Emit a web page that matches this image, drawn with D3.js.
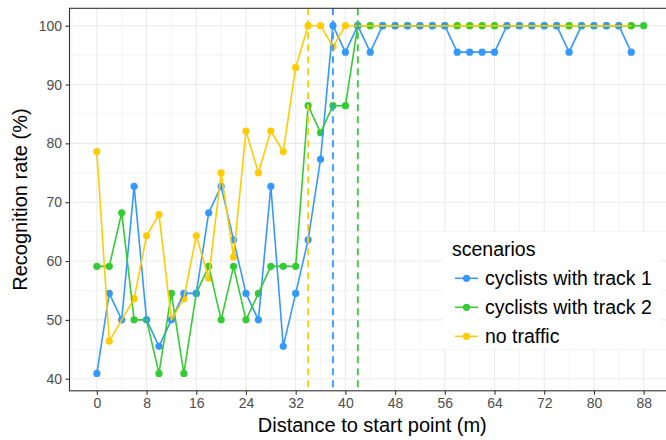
<!DOCTYPE html>
<html>
<head>
<meta charset="utf-8">
<script src="https://cdn.jsdelivr.net/npm/d3@7"></script>
<style>
  html, body { margin: 0; padding: 0; background: #fff; }
  svg { display: block; font-family: "Liberation Sans", Arial, Helvetica, sans-serif; }
</style>
</head>
<body>
<svg id="chart" width="666" height="440"></svg>
<script>
// Distance from start point (m), every 2 m
const distances = d3.range(0, 90, 2);

// Recognition rate (%) per scenario
const track1 = [40.9, 54.5, 50, 72.7, 50, 45.5, 50, 54.5, 54.5, 68.2, 72.7, 63.6, 54.5, 50, 72.7, 45.5,
  54.5, 63.6, 77.3, 100, 95.5, 100, 95.5, 100, 100, 100, 100, 100, 100, 95.5, 95.5, 95.5, 95.5, 100,
  100, 100, 100, 100, 95.5, 100, 100, 100, 100, 95.5];
const track2 = [59.1, 59.1, 68.2, 50, 50, 40.9, 54.5, 40.9, 54.5, 59.1, 50, 59.1, 50, 54.5, 59.1, 59.1,
  59.1, 86.4, 81.8, 86.4, 86.4, 100, 100, 100, 100, 100, 100, 100, 100, 100, 100, 100, 100, 100,
  100, 100, 100, 100, 100, 100, 100, 100, 100, 100, 100];
const noTraffic = [78.6, 46.4, 50, 53.6, 64.3, 67.9, 50, 53.6, 64.3, 57.1, 75, 60.7, 82.1, 75, 82.1, 78.6,
  92.9, 100, 100, 96.4, 100, 100, 100, 100, 100, 100, 100, 100, 100, 100, 100, 100, 100, 100,
  100, 100, 100, 100, 100, 100, 100, 100, 100, 100];

// First distance at which each scenario reaches 100 %
const firstFull = [38, 42, 34];

const scenarioNames = ["cyclists with track 1", "cyclists with track 2", "no traffic"];
const scenarioValues = [track1, track2, noTraffic];
const scenarioColors = ["#3399FF", "#33CC33", "#FFCC00"];

const xTicks = d3.range(0, 89, 8);
const yTicks = d3.range(40, 101, 10);

const svg = d3.select("#chart");
const panel = { left: 69.5, top: 8.3, right: 671, bottom: 390.8 };

const series = scenarioNames.map((name, i) => ({
  name, color: scenarioColors[i], vline: firstFull[i],
  values: scenarioValues[i].map((v, j) => ({ x: distances[j], y: v }))
}));

const xMin = 0, xMax = 88, yMin = 40.9, yMax = 100;
const xPad = (xMax - xMin) * 0.05, yPad = (yMax - yMin) * 0.05;
const x = d3.scaleLinear().domain([xMin - xPad, xMax + xPad]).range([panel.left, panel.right]);
const y = d3.scaleLinear().domain([yMin - yPad, yMax + yPad]).range([panel.bottom, panel.top]);

const pw = panel.right - panel.left, ph = panel.bottom - panel.top;

// panel background
svg.append("rect").attr("x", panel.left).attr("y", panel.top)
  .attr("width", pw).attr("height", ph).attr("fill", "#fff");

// grid lines (minor then major)
const grid = svg.append("g");
const xMinor = d3.range(-4, 93, 8);
const yMinor = d3.range(35, 106, 10).filter(v => v >= y.domain()[0] && v <= y.domain()[1]);
grid.selectAll(".xminor").data(xMinor).join("line")
  .attr("x1", d => x(d)).attr("x2", d => x(d)).attr("y1", panel.top).attr("y2", panel.bottom)
  .attr("stroke", "#EBEBEB").attr("stroke-width", 0.55);
grid.selectAll(".yminor").data(yMinor).join("line")
  .attr("x1", panel.left).attr("x2", panel.right).attr("y1", d => y(d)).attr("y2", d => y(d))
  .attr("stroke", "#EBEBEB").attr("stroke-width", 0.55);
grid.selectAll(".xmajor").data(xTicks).join("line")
  .attr("x1", d => x(d)).attr("x2", d => x(d)).attr("y1", panel.top).attr("y2", panel.bottom)
  .attr("stroke", "#EBEBEB").attr("stroke-width", 1.1);
grid.selectAll(".ymajor").data(yTicks).join("line")
  .attr("x1", panel.left).attr("x2", panel.right).attr("y1", d => y(d)).attr("y2", d => y(d))
  .attr("stroke", "#EBEBEB").attr("stroke-width", 1.1);

// points (no traffic underneath, track 1 on top)
const pointOrder = [2, 1, 0];
pointOrder.forEach(i => {
  const s = series[i];
  svg.append("g").selectAll("circle").data(s.values).join("circle")
    .attr("cx", d => x(d.x)).attr("cy", d => y(d.y)).attr("r", 3.6)
    .attr("fill", s.color);
});

// lines
const line = d3.line().x(d => x(d.x)).y(d => y(d.y));
series.forEach(s => {
  svg.append("path").datum(s.values).attr("d", line)
    .attr("fill", "none").attr("stroke", s.color).attr("stroke-width", 1.6)
    .attr("stroke-linejoin", "round");
});

// dashed reference lines
series.forEach(s => {
  svg.append("line")
    .attr("x1", x(s.vline)).attr("x2", x(s.vline))
    .attr("y1", panel.top).attr("y2", panel.bottom)
    .attr("stroke", s.color).attr("stroke-width", 1.8)
    .attr("stroke-dasharray", "7,5");
});

// panel border
svg.append("rect").attr("x", panel.left).attr("y", panel.top)
  .attr("width", pw).attr("height", ph)
  .attr("fill", "none").attr("stroke", "#333333").attr("stroke-width", 1.1);

// axes
const xAxis = d3.axisBottom(x).tickValues(xTicks).tickSize(4).tickPadding(3.5);
const gx = svg.append("g").attr("transform", `translate(0,${panel.bottom})`).call(xAxis);
const yAxis = d3.axisLeft(y).tickValues(yTicks).tickSize(4).tickPadding(3.5);
const gy = svg.append("g").attr("transform", `translate(${panel.left},0)`).call(yAxis);
[gx, gy].forEach(g => {
  g.select(".domain").remove();
  g.selectAll(".tick line").attr("stroke", "#333333").attr("stroke-width", 1.1);
  g.selectAll(".tick text").attr("fill", "#4D4D4D")
    .style("font-size", "14px").style("font-family", "'Liberation Sans', Arial, sans-serif");
});

// axis titles
svg.append("text").attr("x", (panel.left + panel.right) / 2 + 2).attr("y", 432)
  .attr("text-anchor", "middle").style("font-size", "20px").attr("fill", "#000")
  .text("Distance to start point (m)");
svg.append("text")
  .attr("transform", `translate(27,${(panel.top + panel.bottom) / 2}) rotate(-90)`)
  .attr("text-anchor", "middle").style("font-size", "20px").attr("fill", "#000")
  .text("Recognition rate (%)");

// legend
const lg = svg.append("g");
lg.append("rect").attr("x", 443).attr("y", 232).attr("width", 217).attr("height", 116)
  .attr("fill", "#fff");
lg.append("text").attr("x", 452).attr("y", 256).style("font-size", "19.5px")
  .attr("fill", "#000").text("scenarios");
const rowY = [278.3, 307.3, 336.3];
series.forEach((s, i) => {
  const g = lg.append("g").attr("transform", `translate(0,${rowY[i]})`);
  g.append("line").attr("x1", 455).attr("x2", 478).attr("y1", 0).attr("y2", 0)
    .attr("stroke", s.color).attr("stroke-width", 1.6);
  g.append("circle").attr("cx", 466.5).attr("cy", 0).attr("r", 3.6).attr("fill", s.color);
  g.append("text").attr("x", 485).attr("y", 0).attr("dy", "0.35em")
    .style("font-size", "19.5px").attr("fill", "#000").text(s.name);
});
</script>
</body>
</html>
